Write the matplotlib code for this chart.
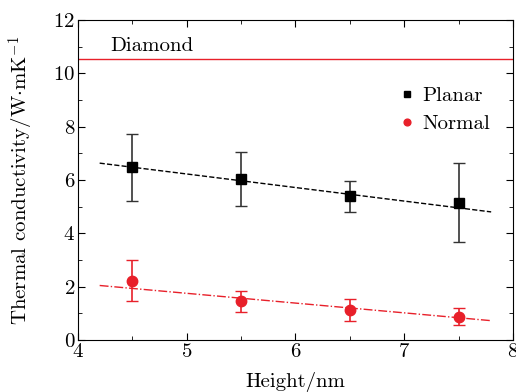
import matplotlib
matplotlib.use("Agg")
import matplotlib.pyplot as plt
import numpy as np

plt.rcParams["font.family"] = "serif"
plt.rcParams["font.serif"] = ["cmr10", "DejaVu Serif"]
plt.rcParams["mathtext.fontset"] = "cm"
plt.rcParams["axes.formatter.use_mathtext"] = True

# Datos
altura = [4.5, 5.5, 6.5, 7.5]
planar = [6.47, 6.03, 5.38, 5.15]
planar_err = [1.25, 1.02, 0.58, 1.48]
normal = [2.22, 1.45, 1.13, 0.86]
normal_err = [0.78, 0.40, 0.42, 0.32]
ajuste_x = [4.2, 7.8]
ajuste_planar = [6.63, 4.80]
ajuste_normal = [2.04, 0.72]
diamante = 10.55

rojo = "#e8202a"

fig = plt.figure(figsize=(5.16, 3.92), dpi=100)
ax = fig.add_axes([0.151, 0.133, 0.843, 0.816])

ax.axhline(diamante, color=rojo, lw=1.0)
ax.text(4.3, 10.85, "Diamond", fontsize=15)

ax.plot(ajuste_x, ajuste_planar, "--", color="black", lw=1.0)
ax.plot(ajuste_x, ajuste_normal, "-.", color=rojo, lw=1.0)

ax.errorbar(altura, planar, yerr=planar_err, fmt="s", color="black", ecolor="#333333",
            ms=7.5, capsize=4, elinewidth=1.2, capthick=1.0, label="Planar")
ax.errorbar(altura, normal, yerr=normal_err, fmt="o", color=rojo, ecolor=rojo,
            ms=7.5, capsize=4, elinewidth=1.2, capthick=1.0, label="Normal")

ax.set_xlim(4, 8)
ax.set_ylim(0, 12)
ax.set_xticks([4, 5, 6, 7, 8])
ax.set_yticks([0, 2, 4, 6, 8, 10, 12])
ax.set_xticks(np.arange(4, 8.01, 0.5), minor=True)
ax.set_yticks(np.arange(0, 12.01, 1), minor=True)
ax.tick_params(which="both", direction="in", top=True, right=True, labelsize=15)
ax.tick_params(which="major", length=5, pad=2)
ax.tick_params(which="minor", length=3)

ax.set_xlabel("Height/nm", fontsize=15, labelpad=8)
ax.set_ylabel(r"Thermal conductivity/W$\cdot$mK$^{-1}$", fontsize=15, labelpad=12)

handles, labels = ax.get_legend_handles_labels()
handles = [h[0] for h in handles]
ax.legend(handles, labels, loc="upper right", bbox_to_anchor=(0.99, 0.85), frameon=False,
          fontsize=15, handletextpad=0.2, labelspacing=0.45, handlelength=1.0,
          markerscale=0.65)

fig.savefig("out.png", dpi=100)
